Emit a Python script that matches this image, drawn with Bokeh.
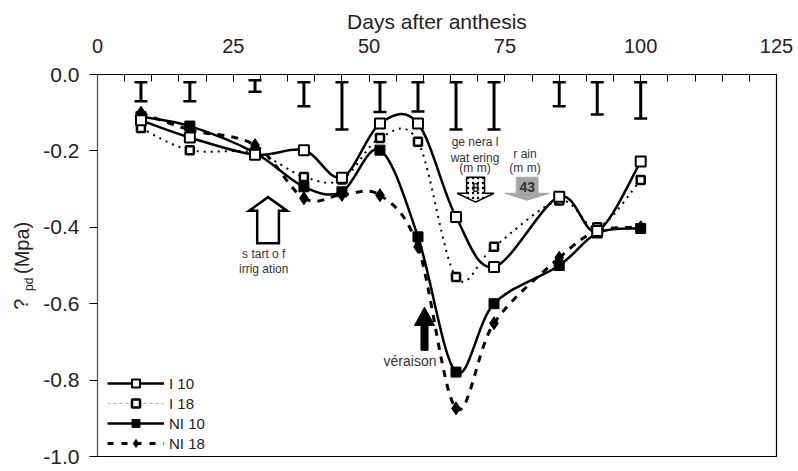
import math
from bokeh.plotting import figure
from bokeh.layouts import row
from bokeh.models import (Range1d, FixedTicker, NumeralTickFormatter, Label,
                          Legend, LegendItem)
from bokeh.core.properties import value
from bokeh.embed import file_html
from bokeh.resources import INLINE

# ---------------- data ----------------
days = [8, 17, 29, 38, 45, 52, 59, 66, 73, 85, 92, 100]
i10 = [-0.12, -0.165, -0.21, -0.198, -0.27, -0.128, -0.128, -0.373, -0.504, -0.32, -0.41, -0.228]
i18 = [-0.14, -0.198, -0.205, -0.268, -0.275, -0.166, -0.176, -0.53, -0.451, -0.33, -0.40, -0.276]
ni10 = [-0.11, -0.135, -0.205, -0.294, -0.307, -0.198, -0.425, -0.779, -0.60, -0.50, -0.415, -0.403]
ni18 = [-0.10, -0.145, -0.185, -0.324, -0.315, -0.316, -0.451, -0.874, -0.651, -0.48, -0.41, -0.40]
err_top = [-0.02, -0.02, -0.015, -0.02, -0.02, -0.02, -0.02, -0.02, -0.02, -0.02, -0.02, -0.02]
err_bottom = [-0.07, -0.07, -0.045, -0.083, -0.144, -0.098, -0.097, -0.144, -0.144, -0.083, -0.105, -0.115]
x_ticks = [0, 25, 50, 75, 100, 125]
x_minor = [0, 5, 10, 15, 20, 25, 30, 35, 40, 45, 50, 55, 60, 65, 70, 75, 80, 85, 90, 95,
           100, 105, 110, 115, 120, 125]
y_ticks = [0.0, -0.2, -0.4, -0.6, -0.8, -1.0]
series_names = ["I 10", "I 18", "NI 10", "NI 18"]
watering_mm = "8"
rain_mm = "43"

FONT = "Liberation Sans"
TXT = "#222222"
H = 471

# ---------------- narrow strip holding the y-axis title ----------------
LW = 40
side = figure(width=LW, height=H, x_range=Range1d(0, LW), y_range=Range1d(0, H),
              title=None, output_backend="svg", toolbar_location=None, x_axis_location=None,
              y_axis_location=None, min_border=0, outline_line_color=None)
side.xgrid.visible = False
side.ygrid.visible = False
side.background_fill_color = "white"
side.border_fill_color = "white"
# text reads bottom-to-top; anchors are the start (bottom end) of each piece
side.text(x=[20.5], y=[H - 290], text=["?"], angle=math.pi / 2, text_align="left",
          text_baseline="middle", text_font=value(FONT), text_font_size={"value": "20px"},
          text_color=TXT)
side.text(x=[28.5], y=[H - 267], text=["pd"], angle=math.pi / 2, text_align="left",
          text_baseline="middle", text_font=value(FONT), text_font_size={"value": "12px"},
          text_color=TXT)
side.text(x=[21], y=[H - 246], text=["(Mpa)"], angle=math.pi / 2, text_align="left",
          text_baseline="middle", text_font=value(FONT), text_font_size={"value": "20px"},
          text_color=TXT)

# ---------------- main chart ----------------
p = figure(width=798 - LW, height=H, x_range=Range1d(0, 125), y_range=Range1d(-1.0, 0.0),
           output_backend="svg", toolbar_location=None, x_axis_location="above",
           min_border_left=95 - LW, min_border_right=22, min_border_top=74, min_border_bottom=15)
p.xgrid.visible = False
p.ygrid.visible = False
p.outline_line_color = "black"
p.outline_line_width = 1.2
p.background_fill_color = "white"
p.border_fill_color = "white"

xa = p.xaxis[0]
xa.ticker = FixedTicker(ticks=x_ticks, minor_ticks=x_minor)
xa.major_tick_in = 7
xa.major_tick_out = 0
xa.minor_tick_in = 7
xa.minor_tick_out = 0
xa.major_label_standoff = 22
xa.major_label_text_font = FONT
xa.major_label_text_font_size = "20px"
xa.major_label_text_color = TXT
xa.axis_label = "Days after anthesis"
xa.axis_label_text_font = FONT
xa.axis_label_text_font_size = "21px"
xa.axis_label_text_font_style = "normal"
xa.axis_label_text_color = TXT
xa.axis_label_standoff = 3
xa.axis_line_color = "black"

ya = p.yaxis[0]
ya.ticker = FixedTicker(ticks=y_ticks, minor_ticks=[])
ya.formatter = NumeralTickFormatter(format="0.0")
ya.major_tick_in = 0
ya.major_tick_out = 8
ya.major_label_standoff = 10
ya.major_label_text_font = FONT
ya.major_label_text_font_size = "21px"
ya.major_label_text_color = TXT
ya.axis_line_color = "#555555"


# ---------------- smoothed lines (Bezier through the data points) ----------------
def smooth(xs, ys, **kw):
    n = len(xs)
    x0, y0, x1, y1, cx0, cy0, cx1, cy1 = [], [], [], [], [], [], [], []
    for i in range(n - 1):
        im = max(i - 1, 0)
        ip2 = min(i + 2, n - 1)
        x0.append(xs[i]); y0.append(ys[i])
        x1.append(xs[i + 1]); y1.append(ys[i + 1])
        cx0.append(xs[i] + (xs[i + 1] - xs[im]) / 6.0)
        cy0.append(ys[i] + (ys[i + 1] - ys[im]) / 6.0)
        cx1.append(xs[i + 1] - (xs[ip2] - xs[i]) / 6.0)
        cy1.append(ys[i + 1] - (ys[ip2] - ys[i]) / 6.0)
    return p.bezier(x0=x0, y0=y0, x1=x1, y1=y1, cx0=cx0, cy0=cy0, cx1=cx1, cy1=cy1, **kw)


smooth(days, i18, line_color="black", line_width=2, line_dash="2 5")
smooth(days, ni18, line_color="black", line_width=3, line_dash="7 7")
smooth(days, ni10, line_color="black", line_width=2.5)
smooth(days, i10, line_color="black", line_width=2.5)

p.scatter(days, ni18, marker="diamond", size=13, fill_color="black", line_color="black")
p.scatter(days, ni10, marker="square", size=10, fill_color="black", line_color="black")
p.scatter(days, i18, marker="square", size=8, fill_color="white", line_color="black", line_width=2.5)
p.scatter(days, i10, marker="square", size=10, fill_color="white", line_color="black", line_width=2)

# ---------------- error bars at the top ----------------
p.segment(x0=days, y0=err_top, x1=days, y1=err_bottom, line_color="black", line_width=3)
p.scatter(days, err_top, marker="dash", size=13, line_color="black", line_width=2.5)
p.scatter(days, err_bottom, marker="dash", size=13, line_color="black", line_width=2.5)


# ---------------- block arrows ----------------
def up_arrow(cx, tip, base, bottom, head_hw, shaft_hw):
    xs = [cx, cx + head_hw, cx + shaft_hw, cx + shaft_hw, cx - shaft_hw, cx - shaft_hw, cx - head_hw]
    ys = [tip, base, base, bottom, bottom, base, base]
    return xs, ys


def down_arrow(cx, top, base, tip, head_hw, shaft_hw):
    xs = [cx - shaft_hw, cx + shaft_hw, cx + shaft_hw, cx + head_hw, cx, cx - head_hw, cx - shaft_hw]
    ys = [top, top, base, base, tip, base, base]
    return xs, ys


# start of irrigation (hollow)
ax, ay = up_arrow(31.4, -0.321, -0.357, -0.442, 3.5, 2.0)
p.patch(ax, ay, fill_color="white", line_color="black", line_width=2.5, line_join="miter")
# veraison (filled)
ax, ay = up_arrow(60.2, -0.609, -0.657, -0.722, 1.85, 0.65)
p.patch(ax, ay, fill_color="black", line_color="black", line_width=1)
# general watering (dotted)
ax, ay = down_arrow(69.6, -0.269, -0.311, -0.334, 3.4, 1.65)
p.patch(ax, ay, fill_color="white", line_color="black", line_width=1.5,
        hatch_pattern="dot", hatch_color="black", hatch_scale=5, hatch_weight=1)
# rain (grey)
ax, ay = down_arrow(79.1, -0.269, -0.311, -0.329, 4.1, 2.0)
p.patch(ax, ay, fill_color="#a6a6a6", line_color="#a6a6a6", line_width=1)


def lab(x, y, text, size="12px", bold=False, align="center", color="#333333"):
    p.add_layout(Label(x=x, y=y, text=text, text_font=FONT, text_font_size=size,
                       text_font_style="bold" if bold else "normal",
                       text_align=align, text_baseline="middle", text_color=color))


lab(30.6, -0.469, "s tart o f")
lab(30.6, -0.510, "irrig ation")
lab(62.4, -0.751, "véraison", size="14px", align="right")
lab(69.5, -0.177, "ge nera l")
lab(69.5, -0.219, "wat ering")
lab(69.5, -0.245, "(m m)")
lab(69.6, -0.295, watering_mm, size="13px", bold=True, color="#222222")
lab(78.7, -0.208, "r ain")
lab(78.7, -0.245, "(m m)")
lab(79.1, -0.295, rain_mm, size="14px", bold=True, color="#333333")

# ---------------- legend (proxy renderers placed outside the visible ranges) ----------------
gx = [-20, -10]
gy = [-3, -3]
l1 = p.line(gx, gy, line_color="black", line_width=2.5)
s1 = p.scatter(gx[:1], gy[:1], marker="square", size=10, fill_color="white", line_color="black", line_width=2)
l2 = p.line(gx, gy, line_color="#b0b0b0", line_width=1, line_dash="3 3")
s2 = p.scatter(gx[:1], gy[:1], marker="square", size=8, fill_color="white", line_color="black", line_width=2.5)
l3 = p.line(gx, gy, line_color="black", line_width=2.5)
s3 = p.scatter(gx[:1], gy[:1], marker="square", size=10, fill_color="black", line_color="black")
l4 = p.line(gx, gy, line_color="black", line_width=3, line_dash="6 8")
s4 = p.scatter(gx[:1], gy[:1], marker="diamond", size=13, fill_color="black", line_color="black")

legend = Legend(items=[LegendItem(label=series_names[0], renderers=[l1, s1]),
                       LegendItem(label=series_names[1], renderers=[l2, s2]),
                       LegendItem(label=series_names[2], renderers=[l3, s3]),
                       LegendItem(label=series_names[3], renderers=[l4, s4])],
                location=(10, 3), border_line_color=None, background_fill_alpha=0,
                glyph_width=57, glyph_height=20, label_height=20, spacing=0,
                padding=0, margin=0, label_standoff=5,
                label_text_font=FONT, label_text_font_size="15px", label_text_color=TXT)
p.add_layout(legend)

layout = row(side, p, spacing=0)
open("out.html", "w").write(file_html(layout, INLINE))
